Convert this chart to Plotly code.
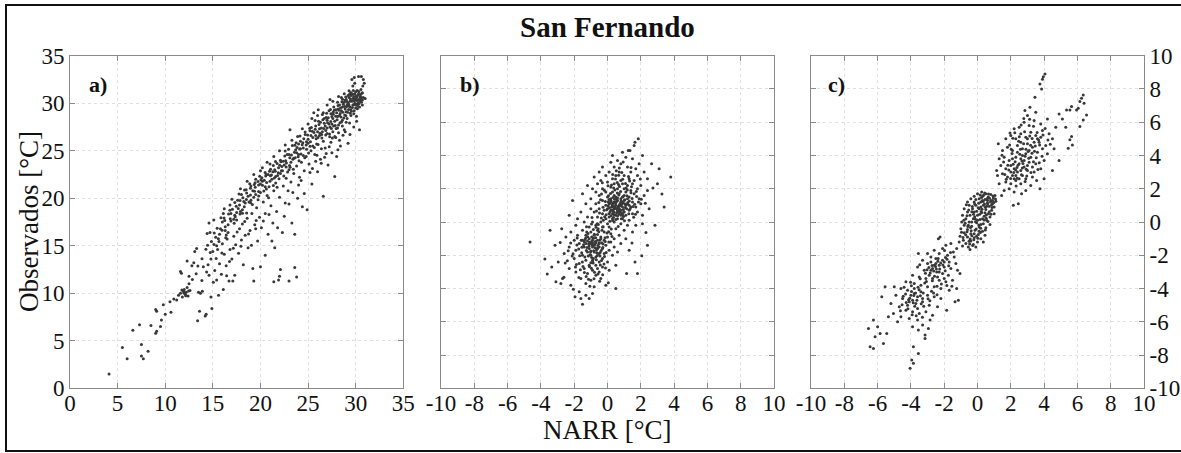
import plotly.graph_objects as go

# --- Panel a: observed vs NARR temperature (°C) ---
pts_a = [
    (4.1,1.5),(5.5,4.3),(6.0,3.1),(6.6,6.1),(7.3,6.7),(7.5,4.6),(7.5,3.4),(7.7,3.1),(8.2,3.9),(8.5,6.6),
    (9.0,8.3),(9.0,5.8),(9.1,6.0),(9.1,8.1),(9.5,6.5),(9.6,7.2),(9.8,8.8),(10.0,7.8),(10.5,9.1),(10.6,8.0),
    (10.9,9.4),(11.2,9.3),(11.4,9.8),(11.6,10.0),(11.6,12.3),(11.7,12.1),(11.8,9.6),(11.9,10.2),(12.0,10.4),(12.1,9.9),
    (12.2,10.1),(12.3,13.4),(12.3,10.6),(12.4,9.7),(12.5,11.8),(12.5,11.0),(12.6,10.3),(12.8,12.9),(13.0,13.2),(13.1,14.4),
    (13.3,14.7),(13.4,7.1),(13.5,10.1),(13.6,8.1),(13.7,10.0),(13.9,10.2),(14.0,12.8),(14.2,7.6),(14.3,7.8),(14.4,16.3),
    (14.5,13.0),(14.6,17.4),(14.7,16.4),(14.8,13.6),(14.9,8.4),(14.6,11.9),(14.8,9.6),(15.0,14.4),(15.1,17.7),(15.2,12.4),
    (15.3,15.9),(15.4,11.4),(15.5,14.6),(15.6,9.8),(15.7,13.1),(15.8,16.8),(15.9,12.0),(16.0,15.2),(16.1,18.4),(16.1,10.4),
    (16.2,14.1),(16.3,17.0),(16.4,12.9),(16.5,15.7),(16.6,16.4),(16.7,11.3),(16.8,19.3),(16.8,14.6),(16.9,17.6),(17.0,13.6),
    (17.1,11.3),(17.2,16.0),(17.3,11.9),(17.3,18.2),(17.4,15.1),(17.5,17.7),(17.6,19.8),(17.7,14.2),(17.8,16.8),(17.9,18.6),
    (18.0,20.4),(18.0,15.6),(18.1,17.3),(18.2,13.0),(18.3,19.1),(18.4,16.1),(18.5,20.9),(18.6,17.9),(18.7,14.8),(18.8,19.6),
    (18.9,16.6),(19.0,21.3),(19.1,18.4),(19.2,12.6),(19.3,11.3),(19.3,20.1),(19.4,17.2),(19.5,22.0),(19.6,19.0),(19.7,15.5),
    (19.8,20.7),(19.9,18.0),(20.0,21.5),(20.0,12.8),(20.1,16.9),(20.2,23.2),(20.3,19.6),(20.4,21.9),(20.5,14.0),(20.5,18.4),
    (20.6,22.5),(20.7,20.3),(20.8,16.2),(20.9,21.2),(21.0,23.6),(21.1,19.2),(21.2,22.0),(21.3,17.4),(21.4,11.2),(21.4,20.8),
    (21.5,14.8),(21.5,23.0),(21.6,21.6),(21.7,18.6),(21.8,22.4),(21.9,11.4),(22.0,11.8),(22.0,20.1),(22.1,12.5),(22.1,24.0),
    (22.2,22.9),(22.3,16.4),(22.4,21.3),(22.5,23.5),(22.6,19.5),(22.7,22.1),(22.8,24.6),(22.9,20.8),(23.0,11.3),(23.0,23.0),
    (23.1,27.2),(23.2,21.7),(23.3,17.4),(23.4,24.1),(23.5,22.6),(23.6,12.7),(23.6,16.2),(23.7,25.1),(23.8,11.7),(23.8,23.4),
    (23.9,20.0),(24.0,24.6),(24.1,22.2),(24.2,26.0),(24.3,23.8),(24.4,19.1),(24.5,25.3),(24.6,22.9),(24.7,26.7),(24.8,24.4),
    (24.9,18.8),(25.0,25.8),(25.1,23.6),(25.2,27.1),(25.3,25.0),(25.4,21.5),(25.5,26.4),(25.6,29.0),(25.7,24.6),(25.8,27.6),
    (25.9,25.7),(26.0,22.8),(26.1,28.1),(26.2,26.6),(26.3,24.1),(26.4,27.4),(26.5,28.8),(26.6,20.2),(26.6,26.0),(26.7,27.9),
    (26.8,25.3),(26.9,28.5),(27.0,26.8),(27.1,23.5),(27.2,29.2),(27.3,30.4),(27.3,27.5),(27.4,25.9),(27.5,28.6),(27.6,27.0),
    (27.7,29.6),(27.8,22.3),(27.8,28.1),(27.9,26.4),(28.0,24.4),(28.0,29.0),(28.1,30.1),(28.2,27.7),(28.3,28.7),(28.4,25.5),
    (28.4,29.5),(28.5,30.6),(28.6,28.2),(28.7,29.9),(28.8,27.2),(28.9,30.3),(29.0,29.1),(29.1,28.4),(29.2,30.8),(29.2,25.8),
    (29.3,29.7),(29.4,26.7),(29.4,30.2),(29.5,29.3),(29.6,31.0),(29.6,32.5),(29.7,30.5),(29.7,31.8),(29.8,28.9),(29.85,32.7),
    (29.9,30.0),(29.9,32.1),(30.0,31.2),(30.1,28.1),(30.1,30.6),(30.2,29.7),(30.3,32.8),(30.3,31.0),(30.4,27.2),(30.4,30.3),
    (30.5,30.9),(30.6,32.8),(30.6,30.1),(30.7,31.1),(30.8,32.5),(30.8,30.6),(30.9,32.1),(30.75,31.8),(31.0,30.5),
    (26.2,27.3),(26.5,27.0),(26.8,27.6),(27.0,28.2),(27.2,27.8),(27.4,28.9),(27.6,28.4),(27.9,29.3),(28.1,28.6),(28.3,29.8),
    (28.5,29.2),(28.6,29.6),(28.8,30.1),(28.9,29.4),(29.0,30.4),(29.1,29.8),(29.2,30.0),(29.3,30.6),(29.4,29.6),(29.5,30.8),
    (29.6,30.2),(29.7,29.8),(29.8,30.7),(29.9,31.0),(30.0,30.4),(30.1,29.9),(30.2,30.8),(30.3,30.4),(30.4,29.6),(30.5,30.2),
    (30.6,30.6),(30.7,29.8),(30.0,29.5),(29.5,28.7),(29.0,28.0),(28.6,27.6),(28.2,26.9),(27.8,26.5),(27.5,27.8),(27.0,27.4),
    (26.7,28.4),(26.3,28.0),(26.0,27.0),(25.8,26.6),(25.5,25.5),(25.3,26.6),(25.0,26.2),(24.8,25.6),(24.5,24.5),(24.2,25.2),
    (24.0,25.7),(23.8,24.8),(23.5,24.2),(23.2,23.8),(23.0,24.6),(22.7,23.3),(22.4,23.9),(22.1,22.6),(21.9,23.2),(21.6,22.3),
    (21.3,22.8),(21.0,21.8),(20.8,22.5),(20.5,21.2),(20.2,21.8),(20.0,20.6),(19.8,21.4),(19.5,20.4),(19.2,20.8),(19.0,19.8),
    (18.7,20.2),(18.4,19.5),(18.1,18.8),(17.8,19.3),(17.5,18.5),(17.2,17.8),(16.9,18.4),(16.6,17.2),(16.3,16.6),(16.0,17.5),
    (15.7,16.2),(15.4,15.0),
    (19.5,16.8),(20.3,17.6),(20.9,18.3),(21.2,15.5),(21.8,16.9),(22.5,18.1),(23.0,19.4),(23.4,20.6),(24.0,21.4),(24.6,20.5),
    (25.2,22.7),(25.8,23.9),(26.4,25.2),(26.9,24.7),(27.5,24.8),(28.3,26.1),(28.9,27.0),(29.8,27.5),
    (16.2,18.9),(17.0,19.9),(17.9,21.0),(18.6,21.8),(19.3,22.5),(20.0,22.9),(20.7,23.8),(21.4,24.4),(22.0,25.0),(22.6,25.6),
    (23.3,26.1),(23.9,26.5),(24.4,27.3),(25.0,27.8),(25.4,28.4),(26.0,28.7),(26.6,29.0),(27.0,29.8),(27.6,30.2),(28.2,30.7),
    (28.8,31.0),(29.3,31.3),
    (17.35,18.05),(17.85,18.35),(18.25,19.65),(18.55,18.45),(18.95,20.35),(19.15,19.35),(19.45,21.15),(19.75,19.85),(20.05,21.95),(20.35,20.75),
    (20.65,21.65),(20.85,20.05),(21.15,22.45),(21.35,21.35),(21.55,22.85),(21.75,21.15),(21.95,22.05),(22.25,23.35),(22.45,22.35),(22.65,23.95),
    (22.85,22.75),(23.05,23.45),(23.25,24.55),(23.45,23.05),(23.65,24.25),(23.85,25.35),(24.05,23.95),(24.25,24.65),(24.45,25.85),(24.65,24.25),
    (24.85,25.15),(25.05,24.75),(25.25,25.95),(25.45,27.05),(25.65,25.35),(25.85,26.25),(26.05,25.65),(26.25,26.85),(26.45,26.35),(26.65,27.35),
    (26.85,26.65),(27.05,27.95),(27.25,26.75),(27.45,27.35),(27.65,28.85),(27.85,27.65),(28.05,28.25),(28.25,29.25),(28.45,28.55),(28.65,29.05),
    (28.85,28.75),(29.05,29.65),(29.25,29.35),(29.45,30.45),(29.65,29.55),(29.85,30.25),(30.05,30.75),(30.25,30.05),(30.45,30.65),(30.65,31.05),
    (29.75,31.35),(29.35,30.95),(28.95,30.65),(28.55,30.15),(28.15,29.75),(27.75,29.25),(27.35,29.35),(26.95,28.95),(26.55,28.25),(26.15,27.75),
    (25.75,27.25),(25.35,27.45),(24.95,26.65),(24.55,26.25),(24.15,26.55),(23.75,25.85),(23.35,25.55),(22.95,25.15),(22.55,24.45),(22.15,23.85),
    (21.75,23.65),(21.35,23.45),(20.95,22.85),(20.55,22.35),(20.15,22.15),(19.75,21.75),(19.35,21.45),(18.95,21.05),(18.55,20.55),(18.15,20.05),
    (17.75,20.45),(17.45,19.15),(17.05,18.85),(16.65,18.35),(16.25,17.65),(15.85,17.95),(15.45,16.85),(15.15,16.35),(14.85,15.45),(14.45,15.05),
    (29.55,29.15),(29.95,29.85),(30.35,29.95),(30.15,31.35),(30.55,31.45),(29.15,29.05),(28.75,28.45),(28.35,27.95),(27.95,27.35),(27.55,26.35),
    (15.35,13.65),(15.65,15.45),(15.95,14.25),(16.35,15.85),(16.75,13.35),(17.15,14.75),(17.55,16.45),(17.95,14.95),(18.35,17.55),(18.75,16.25),
    (19.05,15.05),(19.55,17.65),(16.45,11.85),(15.05,11.15),(14.35,12.25),(13.85,11.35),(13.25,12.05),(12.85,11.45),(12.15,9.75),(11.95,10.05),
    (12.45,10.25),(11.75,10.35),
    (27.12,28.46),(27.38,28.07),(27.63,29.04),(27.91,28.62),(28.14,29.38),(28.37,28.93),(28.62,30.42),(28.83,29.66),(29.08,30.18),(29.27,29.87),
    (29.48,31.12),(29.69,30.94),(29.91,30.46),(30.12,30.29),(30.33,31.24),(30.52,30.47),(30.71,30.33),(30.18,29.41),(29.83,29.22),(29.42,28.94),
    (28.97,28.69),(28.51,28.02),(28.09,27.38),(27.68,27.61),(27.27,26.48),(26.86,27.12),(26.43,26.72),(26.04,26.38),(25.62,26.91),(25.21,25.47),
    (24.83,25.94),(24.38,25.62),(23.96,24.37),(23.57,24.83),(23.12,23.26),(22.73,23.71),(22.31,22.88),(21.87,22.67),(21.46,22.14),(21.04,22.36),
    (20.62,20.96),(20.21,21.37),(19.81,20.23),(19.38,20.74),(18.96,19.52),(18.52,19.87),(18.11,18.42),(17.67,18.91),(17.24,17.36),(16.83,17.83),
    (16.41,16.13),(15.97,16.62),(15.58,15.73),(15.12,15.12),(14.73,14.28),(14.27,14.63),(13.86,13.62),(13.43,12.87),
    (26.07,29.32),(25.74,28.17),(25.18,27.36),(24.69,26.98),(24.11,25.18),(23.62,25.57),(23.08,24.27),(22.59,24.97),(22.02,23.47),(21.58,23.87),
    (21.06,23.04),(20.49,22.71),(19.92,22.31),(19.44,21.62),(18.87,21.52),(18.33,20.86),(17.86,19.77),(17.31,19.56),(16.79,18.74),(16.18,17.93),
    (24.27,21.86),(25.46,23.14),(26.38,23.67),(27.22,25.41),(28.13,25.11),(28.67,26.64),(29.36,27.93),(30.08,28.63),(26.74,24.32),(25.93,24.53),
]

# --- Panel b: anomalies (°C) ---
pts_b = [
    (1.85,5.0),(1.65,4.8),(1.6,4.6),(1.35,4.3),(1.25,4.3),(0.3,4.0),(2.1,4.0),(0.9,4.2),(1.1,3.9),(0.6,3.7),
    (1.5,3.8),(0.2,3.6),(1.9,3.5),(2.65,3.5),(0.8,3.5),(3.1,3.2),
    (-0.3,3.3),(0.4,3.3),(1.2,3.3),(1.7,3.2),(-0.5,3.0),(0.1,3.0),(0.7,3.0),(1.4,3.0),(2.2,3.0),(-0.1,2.8),
    (0.5,2.8),(1.0,2.8),(1.8,2.8),(-0.8,2.7),(0.3,2.6),(1.3,2.6),(2.4,2.6),(3.8,2.7),(0.8,2.5),(1.6,2.5),(-0.4,2.5),
    (-1.2,2.2),(-0.6,2.3),(0.0,2.4),(0.4,2.3),(0.9,2.3),(1.2,2.2),(1.5,2.3),(2.0,2.2),(3.0,2.3),(-0.9,2.0),
    (-0.3,2.0),(0.2,2.1),(0.6,2.0),(1.0,2.0),(1.4,1.9),(1.8,2.0),(2.4,1.9),(-1.5,1.7),(-0.7,1.8),(-0.1,1.8),
    (0.3,1.8),(0.7,1.7),(1.1,1.8),(1.6,1.7),(2.2,1.6),(-0.5,1.6),(0.0,1.5),(0.5,1.5),(0.9,1.5),(1.3,1.5),
    (1.9,1.4),(-2.1,1.3),(-1.0,1.4),
    (-0.3,1.3),(0.2,1.3),(0.4,1.2),(0.6,1.3),(0.8,1.2),(1.0,1.3),(1.2,1.1),(1.5,1.2),(2.0,1.1),(-1.3,1.1),
    (-0.7,1.1),(-0.1,1.0),(0.1,1.1),(0.3,1.0),(0.5,1.0),(0.7,1.0),(0.9,0.9),(1.1,1.0),(1.4,0.9),(1.7,0.9),
    (2.5,0.8),(3.4,0.9),(-1.0,0.8),(-0.5,0.8),(0.0,0.8),(0.2,0.7),(0.4,0.8),(0.6,0.7),(0.8,0.7),(1.0,0.6),
    (1.3,0.7),(1.8,0.6),(-1.6,0.6),(-0.8,0.6),(-0.3,0.5),(0.1,0.5),(0.3,0.5),(0.5,0.4),(0.7,0.5),(1.1,0.4),
    (1.5,0.5),(2.1,0.4),(-2.3,0.4),(-1.2,0.3),(-0.6,0.3),(-0.1,0.2),(0.3,0.2),(0.6,0.2),(0.9,0.2),(1.3,0.1),(-1.8,0.2),
    (-1.4,0.0),(-0.9,0.0),(-0.4,0.0),(0.0,-0.1),(0.4,0.0),(0.8,-0.1),(1.2,-0.2),(1.7,-0.2),(2.85,-0.2),(2.1,-0.1),
    (-2.75,-0.4),(-1.9,-0.2),(-1.1,-0.3),(-0.7,-0.2),(-0.3,-0.3),(0.1,-0.3),(0.5,-0.4),(1.0,-0.5),(1.5,-0.6),(-3.45,-0.5),
    (-2.2,-0.6),(-1.5,-0.5),(-1.0,-0.6),(-0.6,-0.5),(-0.2,-0.6),(0.2,-0.7),(0.7,-0.8),(-1.8,-0.8),(-1.3,-0.8),(-0.8,-0.8),
    (-0.4,-0.9),(0.0,-0.9),(0.4,-1.0),(1.1,-1.0),(-2.5,-0.9),(-4.65,-1.2),
    (-2.0,-1.1),(-1.5,-1.1),(-1.1,-1.0),(-0.9,-1.1),(-0.6,-1.1),(-0.2,-1.1),(0.2,-1.2),(0.8,-1.3),(2.4,-1.4),(-3.15,-1.4),
    (-1.7,-1.3),(-1.3,-1.3),(-1.0,-1.3),(-0.8,-1.4),(-0.5,-1.3),(-0.1,-1.4),(0.4,-1.5),(-2.3,-1.5),(-1.4,-1.5),(-1.1,-1.6),
    (-0.9,-1.5),(-0.6,-1.6),(-0.3,-1.6),(0.1,-1.7),(0.6,-1.8),(1.3,-1.7),(-1.9,-1.7),(-1.2,-1.8),(-0.8,-1.8),(-0.5,-1.9),
    (-0.2,-1.9),(-2.6,-1.9),(-1.5,-2.0),(-1.0,-2.0),(-0.7,-2.1),(0.3,-2.0),(-0.3,-2.2),
    (-2.0,-2.2),(-1.3,-2.3),(-0.9,-2.3),(-0.5,-2.4),(0.0,-2.4),(1.65,-2.4),(-3.35,-2.7),(-1.7,-2.5),(-1.1,-2.6),(-0.7,-2.6),
    (-0.3,-2.7),(0.5,-2.6),(-2.3,-2.8),(-1.4,-2.8),(-0.9,-2.9),(-0.5,-3.0),(0.1,-2.9),(-1.9,-3.0),(-1.2,-3.1),(1.15,-3.1),
    (1.8,-3.1),(-0.7,-3.2),
    (-3.1,-3.6),(-2.8,-3.7),(-2.7,-3.4),(-1.6,-3.4),(-1.0,-3.5),(-0.4,-3.4),(-2.2,-3.8),(-1.3,-3.7),(-0.1,-3.8),(0.05,-3.65),
    (-0.8,-3.9),(0.5,-4.0),(-2.05,-4.05),(-1.7,-4.2),(-1.95,-4.5),(-1.6,-4.6),(-1.1,-4.6),(-0.9,-4.3),(-1.5,-4.95),(-1.3,-4.4),
    (0.35,1.15),(0.55,1.25),(0.75,1.1),(0.95,1.15),(0.25,0.9),(0.45,0.9),(0.65,0.85),(0.85,1.05),(0.15,0.6),(0.35,0.65),
    (0.55,0.55),(0.75,0.6),(0.95,0.75),(1.15,0.8),(0.05,1.2),(0.6,1.45),(0.8,1.4),(1.0,1.6),(0.4,1.6),(0.2,1.4),
    (1.2,1.4),(-0.2,0.7),(0.9,0.45),(0.5,0.15),(1.3,1.0),
    (-0.7,-1.25),(-0.9,-1.25),(-1.1,-1.45),(-0.75,-1.55),(-0.5,-1.5),(-0.35,-1.25),(-1.2,-1.15),(-0.95,-0.9),(-0.6,-0.75),(-0.4,-1.0),
    (-1.0,-1.75),(-0.65,-1.85),(-0.85,-2.2),(-1.15,-2.05),(-0.45,-2.05),(-1.35,-1.05),(-0.15,-0.95),(-1.25,-0.6),(-0.85,-0.45),(-0.55,-0.15),
    (-0.25,0.1),(0.1,0.3),(-1.55,-1.85),(-0.6,-2.8),(-1.0,-2.45),
    (0.47,1.13),(0.63,0.92),(0.82,1.27),(0.28,1.04),(1.07,0.87),(0.56,1.38),(0.74,0.68),(0.12,0.86),(0.93,1.52),(0.39,0.58),
    (1.22,1.17),(0.68,1.63),(0.21,1.23),(0.87,0.53),(1.04,1.34),(0.51,0.81),(0.33,1.47),(1.36,0.79),(0.79,1.83),(0.04,0.97),
    (0.61,0.37),(1.17,1.58),(0.44,1.92),(0.96,0.33),(-0.13,1.24),(0.72,2.13),(1.48,1.41),(0.18,1.71),(1.28,0.49),(0.58,2.37),
    (-0.27,0.88),(1.63,1.07),(0.83,0.19),(0.06,1.58),(1.12,2.04),(0.36,0.27),(-0.42,1.34),(1.57,0.28),(0.91,2.57),(0.24,2.23),
    (1.41,1.76),(-0.08,0.43),(1.75,1.53),(0.67,2.81),(1.02,0.07),(0.14,0.05),(-0.36,1.69),(1.86,1.21),(0.53,3.08),(1.33,2.47),
    (-0.73,-1.17),(-0.91,-1.38),(-0.58,-1.42),(-1.07,-1.22),(-0.84,-0.97),(-0.66,-1.68),(-1.23,-1.53),(-0.47,-1.09),(-1.02,-1.81),(-0.79,-0.73),
    (-1.31,-0.96),(-0.38,-1.71),(-0.95,-2.13),(-1.44,-1.37),(-0.61,-2.02),(-0.27,-1.32),(-1.17,-0.69),(-0.52,-0.58),(-1.36,-2.11),(-0.86,-2.46),
    (-1.58,-1.09),(-0.18,-2.07),(-1.09,-2.68),(-0.43,-2.58),(-1.73,-1.62),(-0.69,-0.32),(-1.26,-0.28),(-0.08,-1.83),(-1.51,-2.41),(-0.96,-0.12),
    (-0.33,-0.49),(-1.82,-0.96),(-0.57,-3.12),(-1.39,-3.03),(-0.12,-2.77),(-2.07,-1.91),(-1.63,-2.87),(-0.81,-3.41),(0.08,-1.21),(-2.21,-1.27),
    (-1.14,-3.44),(-0.29,-3.17),(0.27,-0.87),(-1.87,-2.56),(-2.41,-2.33),
    (-0.17,0.31),(0.23,-0.42),(-0.48,0.54),(0.41,0.43),(-0.62,-0.11),(0.07,-0.58),(-0.93,0.27),(0.64,-0.27),(-0.26,-0.28),(0.31,0.09),
    (0.52,1.21),(0.71,0.79),(0.34,0.93),(0.89,1.19),(0.62,0.63),(0.18,1.14),(1.06,1.08),(0.43,1.37),(0.77,0.98),(0.27,0.72),
    (0.98,0.62),(0.59,1.74),(0.09,1.36),(1.31,1.27),(0.81,0.41),(0.37,2.04),(1.19,1.92),(-0.04,0.74),(1.54,0.93),(0.66,2.26),
    (0.22,0.38),(1.08,2.31),(0.48,2.59),(1.44,2.12),(0.03,2.18),(1.73,1.84),(0.86,2.98),(-0.19,1.91),(1.26,2.74),(0.31,2.86),
    (2.03,1.37),(-0.52,1.17),(1.68,0.47),(0.71,3.24),(1.97,2.58),(-0.31,2.36),(2.27,1.13),(1.41,3.27),(-0.66,0.66),(0.94,3.61),
    (-0.76,-1.32),(-0.94,-1.14),(-0.62,-1.59),(-1.13,-1.33),(-0.83,-1.73),(-0.51,-1.27),(-1.27,-1.71),(-0.71,-0.94),(-1.04,-1.97),(-0.44,-1.83),
    (-1.39,-1.19),(-0.89,-2.34),(-0.28,-1.54),(-1.54,-1.52),(-0.67,-2.27),(-1.19,-0.88),(-0.36,-2.31),(-1.67,-2.03),(-0.97,-2.78),(-0.56,-0.41),
    (-1.47,-2.67),(-0.14,-1.17),(-1.84,-1.38),(-0.78,-3.02),(-1.28,-3.27),(-0.21,-2.52),(-2.12,-2.04),(-1.72,-3.34),(-0.47,-3.56),(-2.36,-1.73),
    (-1.06,-3.86),(-0.03,-0.66),(-2.54,-2.47),(-1.92,-2.71),(-0.37,0.24),
    (-2.84,-1.23),(-2.96,-2.41),(-3.62,-3.12),(2.73,2.04),(3.27,1.68),(2.31,-0.63),(-2.62,-3.32),(1.47,-1.27),(2.06,-2.03),(-3.76,-2.23),
]

# --- Panel c: anomalies grouped in three clusters (°C) ---
pts_c = [
    # central cluster
    (0.25,1.8),(0.0,1.7),(0.5,1.7),(0.8,1.65),(1.05,1.6),(-0.2,1.55),(0.3,1.55),(0.65,1.5),(0.95,1.45),(-0.4,1.4),
    (0.1,1.4),(0.45,1.35),(0.8,1.3),(1.1,1.25),(-0.6,1.2),(-0.2,1.2),(0.2,1.2),(0.6,1.15),(0.9,1.1),(-0.5,1.0),
    (-0.1,1.0),(0.35,1.0),(0.7,0.95),(1.0,0.9),(-0.8,0.8),(-0.3,0.8),(0.1,0.8),(0.5,0.75),(0.85,0.7),(-0.6,0.6),
    (-0.2,0.6),(0.25,0.55),(0.65,0.5),(1.0,0.5),(-0.9,0.4),(-0.45,0.4),(0.0,0.4),(0.4,0.35),(0.75,0.3),(-0.7,0.2),
    (-0.25,0.2),(0.15,0.15),(0.55,0.1),(-0.95,0.0),(-0.5,0.0),(-0.05,-0.05),(0.35,-0.1),(0.75,-0.15),(-0.8,-0.2),(-0.35,-0.25),
    (0.1,-0.3),(0.5,-0.35),(-1.0,-0.4),(-0.6,-0.45),(-0.15,-0.5),(0.3,-0.55),(-0.8,-0.65),(-0.4,-0.7),(0.05,-0.75),(0.45,-0.8),
    (-1.05,-0.85),(-0.6,-0.9),(-0.2,-0.95),(0.2,-1.0),(-0.85,-1.1),(-0.4,-1.15),(0.0,-1.2),(-0.7,-1.3),(-0.25,-1.35),(-0.55,-1.5),
    (-0.1,-1.5),(-0.45,-1.65),(-0.9,-1.45),(0.35,-1.2),(-1.1,-1.2),
    (0.3,1.3),(0.55,0.95),(0.2,0.9),(-0.05,0.65),(0.45,0.55),(-0.35,0.0),(0.2,-0.15),(-0.55,-0.2),(0.0,0.1),(-0.2,-0.7),
    (0.1,-0.55),(0.6,1.3),(-0.1,1.35),(0.9,1.3),(0.3,0.2),
    (0.13,0.47),(0.42,1.08),(-0.17,0.32),(0.58,1.42),(-0.42,-0.33),(0.27,0.77),(-0.63,-0.58),(0.71,0.62),(-0.08,-0.42),(0.36,1.61),
    (-0.31,0.93),(0.84,1.02),(-0.74,-0.07),(0.17,-0.63),(0.52,0.23),(-0.53,0.72),(0.93,1.57),(-0.22,-1.07),(0.07,1.13),(-0.87,-0.93),
    (0.63,0.03),(-0.47,-1.32),(0.24,1.47),(-0.12,0.02),(0.47,-0.48),(-0.67,1.03),(0.78,1.21),(-0.34,-0.83),(0.02,-0.97),(1.08,1.38),
    (0.22,0.63),(0.47,0.88),(-0.13,0.18),(0.61,1.09),(-0.38,-0.52),(0.34,1.24),(-0.58,-0.27),(0.72,1.43),(0.08,-0.18),(-0.24,0.47),
    (0.53,0.42),(-0.71,-0.77),(0.16,1.62),(-0.44,-1.02),(0.87,0.87),(-0.06,-0.86),(0.39,0.12),(-0.82,0.11),(0.66,1.68),(-0.29,-1.42),
    (0.98,1.18),(-0.63,0.37),(0.19,-0.37),(-0.96,-0.62),(0.43,1.74),(-0.17,1.08),(0.81,0.46),(-0.51,-1.16),(0.04,0.86),(-0.34,0.62),
    # warm cluster
    (1.45,1.6),(2.15,1.0),(2.45,1.1),(2.65,1.7),(3.75,2.0),(3.55,2.5),(1.6,1.9),(1.9,2.0),(2.2,1.8),(2.9,1.9),
    (3.2,2.2),(1.3,2.3),(1.7,2.4),(2.0,2.3),(2.3,2.5),(2.6,2.3),(2.9,2.6),(3.3,2.7),(4.0,2.6),(1.2,2.8),
    (1.5,2.9),(1.8,2.7),(2.1,2.8),(2.4,3.0),(2.7,2.8),(3.0,3.1),(3.4,3.0),(3.8,3.2),(4.5,3.1),(1.15,3.1),
    (1.4,3.4),(1.7,3.2),(2.0,3.4),(2.2,3.2),(2.5,3.5),(2.8,3.3),(3.1,3.6),(3.5,3.5),(4.0,3.7),(4.9,3.7),
    (1.3,3.8),(1.6,3.9),(1.9,3.7),(2.3,3.9),(2.6,3.8),(2.9,4.1),(3.2,3.9),(3.6,4.2),(4.2,4.1),(4.6,4.4),
    (1.25,4.7),(1.5,4.3),(1.8,4.5),(2.1,4.3),(2.4,4.6),(2.7,4.4),(3.0,4.7),(3.3,4.5),(3.7,4.8),(4.1,4.6),
    (4.5,5.0),(1.7,5.0),(2.0,5.2),(2.3,5.0),(2.6,5.3),(2.9,5.1),(3.2,5.4),(3.5,5.2),(3.9,5.5),(4.3,5.3),
    (1.95,5.35),(2.5,5.7),(2.8,6.0),(3.1,5.8),(3.4,6.1),(3.8,5.9),(4.7,5.7),(2.85,6.7),(3.15,6.9),(3.0,6.4),
    (3.5,6.6),(4.2,6.2),(2.2,5.6),
    (2.3,2.8),(2.6,3.1),(2.5,2.6),(2.0,3.0),(2.8,3.7),(3.0,3.4),(2.7,4.0),(2.4,4.2),(3.1,4.3),(3.4,4.8),
    (3.0,5.0),(3.6,5.0),(2.1,3.8),(2.6,4.8),(3.9,4.4),(2.2,2.6),(3.3,3.3),(3.8,5.1),
    (2.37,3.27),(2.73,3.52),(2.18,2.97),(3.08,3.83),(2.54,4.07),(2.91,4.38),(3.27,4.14),(2.26,3.63),(3.47,4.57),(2.64,2.84),
    (1.88,3.13),(3.14,5.17),(2.47,4.86),(3.73,4.63),(2.08,4.12),(3.36,3.62),(1.73,2.57),(2.83,5.43),(3.58,5.38),(2.32,2.17),
    (2.96,2.77),(1.93,4.63),(3.88,3.96),(2.69,3.24),(3.21,2.98),(2.12,5.03),(3.63,3.16),(1.57,3.61),(4.23,4.93),(2.78,6.23),
    (2.43,3.41),(2.67,3.67),(2.86,3.96),(2.29,3.12),(3.04,4.24),(2.58,4.38),(3.19,4.62),(2.14,3.47),(2.77,4.71),(3.42,4.26),
    (2.38,2.63),(2.93,3.17),(1.82,3.42),(3.28,5.02),(2.51,5.12),(3.67,4.93),(2.03,4.37),(1.64,2.86),(3.53,3.87),(2.86,2.43),
    (3.93,5.23),(2.24,5.36),(1.47,4.02),(3.13,6.18),(4.37,4.67),(1.99,2.62),(3.71,3.57),(2.62,5.84),(4.06,5.62),(3.36,5.76),
    (4.05,8.9),(3.95,8.74),(3.9,8.58),(3.75,8.3),(3.85,8.0),(3.45,7.5),(6.35,7.64),(6.25,7.44),(6.15,7.24),(6.4,7.14),
    (6.05,6.84),(5.95,6.74),(5.65,6.94),(5.55,6.74),(5.35,6.74),(6.55,6.44),(6.35,6.14),(6.15,5.74),(5.65,5.14),(5.55,4.94),
    (5.7,4.63),(5.45,4.43),(5.1,6.2),(4.9,6.5),(5.3,5.7),
    # cold cluster
    (-2.25,-0.9),(-2.35,-1.0),(-1.25,-1.6),(-1.45,-1.8),(-3.55,-1.9),(-1.9,-1.4),(-2.1,-1.6),(-1.6,-1.3),(-2.6,-1.7),(-3.0,-1.9),
    (-2.3,-1.9),(-1.8,-2.0),(-1.4,-2.1),(-2.8,-2.1),(-2.5,-2.2),(-2.1,-2.3),(-1.7,-2.4),(-1.3,-2.5),(-3.3,-2.3),(-3.0,-2.5),
    (-2.6,-2.6),(-2.3,-2.6),(-2.0,-2.7),(-1.6,-2.8),(-1.2,-2.9),(-3.6,-2.7),(-3.2,-2.9),(-2.8,-2.9),(-2.45,-3.0),(-2.1,-3.1),
    (-1.75,-3.2),(-1.05,-3.1),(-3.9,-3.2),(-3.5,-3.3),(-3.1,-3.4),(-2.7,-3.4),(-2.3,-3.5),(-1.9,-3.6),(-1.5,-3.5),(-4.3,-3.6),
    (-3.8,-3.7),(-3.4,-3.8),(-3.0,-3.9),(-2.6,-3.9),(-2.2,-4.0),(-1.7,-4.1),(-1.25,-4.0),(-4.6,-4.0),(-4.2,-4.1),(-3.8,-4.3),
    (-3.4,-4.2),(-3.0,-4.4),(-2.6,-4.5),(-2.2,-4.6),(-1.15,-4.7),(-1.35,-4.8),(-4.9,-4.4),(-4.5,-4.6),(-4.1,-4.8),(-3.7,-4.9),
    (-3.3,-4.8),(-2.9,-5.0),(-2.4,-5.1),(-1.85,-5.3),(-4.7,-5.1),(-4.3,-5.3),(-3.9,-5.4),(-3.5,-5.5),(-3.1,-5.4),(-2.7,-5.6),
    (-4.6,-5.7),(-4.1,-5.8),(-3.6,-5.9),(-2.85,-5.9),(-4.8,-6.0),(-3.3,-6.2),(-2.95,-6.4),(-3.15,-6.8),(-3.15,-7.0),(-3.55,-6.5),
    (-3.9,-6.3),(-3.55,-7.9),(-3.85,-7.5),(-3.95,-8.3),(-3.85,-8.5),(-4.05,-8.8),
    (-5.55,-3.9),(-5.75,-4.5),(-6.25,-5.9),(-6.55,-6.4),(-6.45,-7.5),(-6.25,-7.6),(-6.15,-6.9),(-5.85,-6.7),(-5.45,-6.7),(-5.65,-7.3),
    (-5.35,-5.7),(-5.05,-5.5),(-5.2,-4.9),(-5.0,-3.9),(-6.0,-6.3),
    (-2.5,-2.5),(-2.7,-2.8),(-2.3,-3.0),(-2.0,-2.4),(-2.9,-3.2),(-2.4,-3.3),(-3.6,-4.5),(-4.0,-4.4),(-3.8,-4.0),(-3.3,-4.6),
    (-4.2,-5.0),(-3.6,-5.2),(-3.9,-4.7),(-2.0,-3.4),(-2.8,-2.4),
    (-2.47,-2.83),(-2.73,-2.62),(-2.21,-2.47),(-2.58,-3.26),(-2.92,-2.73),(-2.36,-2.19),(-1.94,-2.93),(-3.13,-3.08),(-2.17,-3.73),(-1.83,-2.24),
    (-3.72,-4.27),(-4.07,-4.58),(-3.43,-4.43),(-3.86,-4.86),(-4.32,-4.33),(-3.57,-3.93),(-4.18,-5.21),(-3.23,-5.07),(-3.97,-3.83),(-4.53,-4.98),
    (-3.68,-5.63),(-2.76,-4.17),(-3.17,-3.67),(-4.41,-3.92),(-2.43,-3.87),(-1.62,-1.83),(-1.98,-1.72),(-2.86,-4.73),(-3.47,-2.57),(-1.54,-3.87),
    (-2.52,-2.68),(-2.63,-2.94),(-2.38,-2.36),(-2.84,-3.06),(-2.27,-2.82),(-2.71,-3.53),(-2.08,-2.58),(-3.03,-2.87),(-1.92,-2.13),(-3.07,-3.58),
    (-3.82,-4.42),(-3.96,-4.18),(-3.64,-4.71),(-4.14,-4.67),(-3.51,-4.07),(-4.28,-4.84),(-3.77,-5.06),(-3.38,-4.91),(-4.46,-4.47),(-3.92,-5.57),
    (-2.64,-4.27),(-3.26,-4.27),(-4.63,-5.34),(-2.97,-4.62),(-3.31,-5.73),(-1.73,-2.63),(-2.43,-4.38),(-4.02,-3.62),(-1.84,-3.82),(-3.44,-3.42),
]

# Tick values and labels (plain hyphen for negatives)
ticks_a = [0, 5, 10, 15, 20, 25, 30, 35]
ticks_anom = [-10, -8, -6, -4, -2, 0, 2, 4, 6, 8, 10]
labels_a = [str(v) for v in ticks_a]
labels_anom = [str(v) for v in ticks_anom]

W, H = 1181, 453
SERIF = "Liberation Serif, Times New Roman, serif"
DOT = "#383838"
AXC = "#8a8a8a"

def px_x(p):
    return p / W

def px_y(p):
    return 1 - p / H

fig = go.Figure()
for pts, xa, ya in ((pts_a, "x", "y"), (pts_b, "x2", "y2"), (pts_c, "x3", "y3")):
    fig.add_trace(go.Scatter(
        x=[p[0] for p in pts], y=[p[1] for p in pts], mode="markers",
        marker=dict(size=3, color=DOT, line=dict(width=0)),
        xaxis=xa, yaxis=ya, showlegend=False, hoverinfo="skip",
    ))

common = dict(
    showline=True, linecolor=AXC, linewidth=1, mirror="ticks",
    ticks="inside", ticklen=5, tickcolor=AXC, tickwidth=1,
    showgrid=True, gridcolor="#e0e0e0", griddash="dot", gridwidth=1,
    zeroline=False, tickfont=dict(family=SERIF, size=23, color="#111111"),
    tickmode="array", fixedrange=True, automargin=False,
)
xextra = dict(ticklabelstandoff=-6)
ydom = [px_y(388.3), px_y(55.7)]

fig.update_layout(
    template="none",
    width=W, height=H, margin=dict(l=0, r=0, t=0, b=0, pad=0), autosize=False,
    paper_bgcolor="white", plot_bgcolor="white", showlegend=False,
    xaxis=dict(common, **xextra, domain=[px_x(70), px_x(403.3)], range=[0, 35],
               tickvals=ticks_a, ticktext=labels_a, anchor="y"),
    yaxis=dict(common, domain=ydom, range=[0, 35],
               tickvals=ticks_a, ticktext=labels_a, anchor="x"),
    xaxis2=dict(common, **xextra, domain=[px_x(441), px_x(774)], range=[-10, 10],
                tickvals=ticks_anom, ticktext=labels_anom, anchor="y2"),
    yaxis2=dict(common, domain=ydom, range=[-10, 10],
                tickvals=ticks_anom, ticktext=labels_anom, showticklabels=False, anchor="x2"),
    xaxis3=dict(common, **xextra, domain=[px_x(811), px_x(1144)], range=[-10, 10],
                tickvals=ticks_anom, ticktext=labels_anom, anchor="y3"),
    yaxis3=dict(common, domain=ydom, range=[-10, 10], side="right",
                tickvals=ticks_anom, ticktext=labels_anom, anchor="x3"),
)

annotations = [
    dict(text="<b>San Fernando</b>", x=px_x(607), y=px_y(27), font=dict(size=29)),
    dict(text="NARR [°C]", x=px_x(607), y=px_y(430), font=dict(size=27)),
    dict(text="Observados [°C]", x=px_x(29), y=px_y(222), textangle=-90, font=dict(size=27)),
    dict(text="<b>a)</b>", x=px_x(87), y=px_y(84), xanchor="left", font=dict(size=22)),
    dict(text="<b>b)</b>", x=px_x(458), y=px_y(84), xanchor="left", font=dict(size=22)),
    dict(text="<b>c)</b>", x=px_x(826), y=px_y(84), xanchor="left", font=dict(size=22)),
]
for a in annotations:
    a.setdefault("xanchor", "center")
    a.update(xref="paper", yref="paper", yanchor="middle", showarrow=False)
    a["font"].update(family=SERIF, color="#111111")
fig.update_layout(annotations=annotations)

# Figure frame (open on the right side)
fig.add_shape(type="rect", xref="paper", yref="paper",
              x0=px_x(6), x1=1.02, y0=px_y(451), y1=px_y(5),
              line=dict(color="#111111", width=2))

fig.write_html("out.html")
